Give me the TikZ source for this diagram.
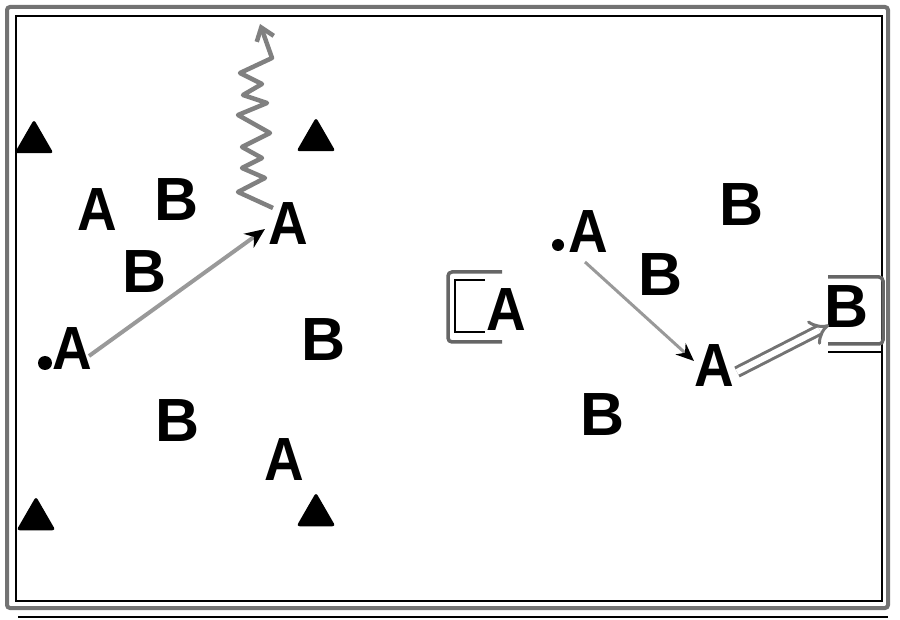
\documentclass[tikz,border=0pt]{standalone}
\usepackage{fontspec}
\usepackage{graphicx}
\setmainfont{Liberation Sans}
\usetikzlibrary{arrows.meta,shapes.geometric}
\newcommand\letA{\scalebox{0.9}[1]{A}}
\begin{document}
\begin{tikzpicture}[x=1pt,y=-1pt,
  lett/.style={inner sep=0pt,font=\fontsize{61}{61}\selectfont\bfseries},
  tri/.style={regular polygon,regular polygon sides=3,minimum size=45pt,fill=black,inner sep=0pt,rounded corners=3pt},
  dotp/.style={circle,fill=black,inner sep=0pt,minimum size=14pt},
  frameout/.style={draw=black!55,line width=4pt,rounded corners=3pt},
  thinl/.style={draw=black,line width=1.4pt},
  goal/.style={draw=black!60,line width=3.5pt,rounded corners=4pt},
  pass/.style={draw=black!40,line width=4pt},
  dribble/.style={draw=black!50,line width=4.5pt,line join=round},
  shot/.style={draw=black!55,line width=3pt,double=white,double distance=6pt}
]
\useasboundingbox (0,0) rectangle (900,620);
% frame
\draw[frameout] (7,7) rectangle (888,608);
\draw[thinl] (16,16) rectangle (882,601);
\draw[thinl] (18,617) -- (888,617);
% goals
\draw[goal] (502,272) -- (448,272) -- (448,342) -- (502,342);
\draw[thinl,line width=1.2pt] (485,280) -- (455,280) -- (455,332) -- (485,332);
\draw[goal] (828,277) -- (883,277) -- (883,344) -- (828,344);
\draw[thinl,line width=1.2pt] (828,352) -- (882,352);
% cones
\node[tri] (t1) at (34,142) {};
\node[tri] (t2) at (316,140) {};
\node[tri] (t3) at (36,519) {};
\node[tri] (t4) at (316,515) {};
% players
\node[lett] (a1) at (97,210) {\letA};
\node[lett] (b1) at (177,200) {B};
\node[lett] (a2) at (288,224) {\letA};
\node[lett] (b2) at (145,272) {B};
\node[lett] (a3) at (72,349) {\letA};
\node[lett] (b3) at (324,340) {B};
\node[lett] (b4) at (178,421) {B};
\node[lett] (a4) at (284,460) {\letA};
\node[lett] (a5) at (588,232) {\letA};
\node[lett] (b5) at (742,205) {B};
\node[lett] (b6) at (661,275) {B};
\node[lett] (a7) at (506,310) {\letA};
\node[lett] (a6) at (714,366) {\letA};
\node[lett] (b7) at (847,307) {B};
\node[lett] (b8) at (603,415) {B};
\node[dotp] (d1) at (45,363) {};
\node[dotp,minimum size=12pt] (d2) at (558,245) {};
% connector end points
\coordinate (p1s) at (89,356);
\coordinate (p1e) at (265,229);
\coordinate (z0) at (273,208);
\coordinate (zt) at (260,24);
\coordinate (p2s) at (585,262);
\coordinate (p2e) at (694,361);
\coordinate (s1s) at (737,372);
\coordinate (s1e) at (829,325);
% pass A3 -> A2
\draw[pass,-{Stealth[length=20pt,width=17pt,black]}] (p1s) -- (p1e);
% dribble
\draw[dribble,-{Straight Barb[length=12pt,width=18pt]}] (z0) -- (238,192) -- (265,178) -- (242,168) -- (262,158) -- (242,147) -- (270,133) -- (238,115) -- (267,103) -- (243,95) -- (262,84) -- (240,73) -- (272,58) -- (zt);
% pass A5 -> A6
\draw[pass,line width=3pt,-{Stealth[length=18pt,width=15pt,black]}] (p2s) -- (p2e);
% shot
\draw[shot,-{Implies[length=14pt]}] (s1s) -- (s1e);
\end{tikzpicture}
\end{document}
